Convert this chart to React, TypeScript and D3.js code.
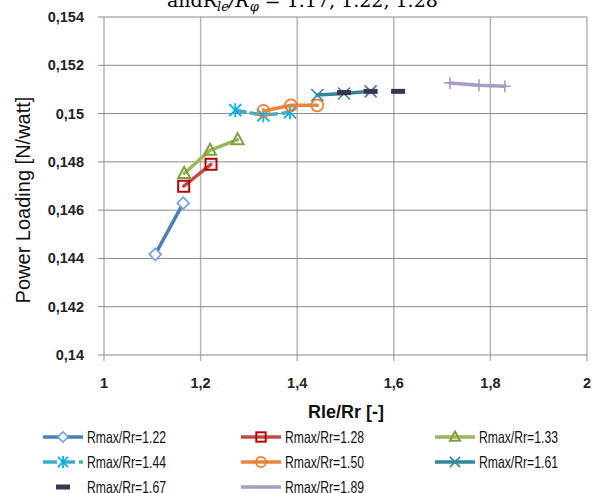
import React from "react";
import * as d3 from "d3";

const xTicks = [1, 1.2, 1.4, 1.6, 1.8, 2];
const yTicks = [0.14, 0.142, 0.144, 0.146, 0.148, 0.15, 0.152, 0.154];

const s122x = [1.106, 1.164];
const s122y = [0.14417, 0.14629];
const s128x = [1.165, 1.2215];
const s128y = [0.14699, 0.1479];
const s133x = [1.166, 1.2195, 1.2767];
const s133y = [0.14752, 0.14848, 0.14892];
const s144x = [1.2718, 1.3298, 1.385];
const s144y = [0.15014, 0.14993, 0.15005];
const s150x = [1.33, 1.387, 1.4416];
const s150y = [0.15011, 0.15034, 0.15034];
const s161x = [1.4416, 1.4969, 1.552];
const s161y = [0.15077, 0.15083, 0.15092];
const s167x = [1.4969, 1.552, 1.609];
const s167y = [0.15087, 0.15092, 0.15092];
const s189x = [1.7164, 1.7764, 1.83];
const s189y = [0.15127, 0.15117, 0.15113];

const labels = [
  "Rmax/Rr=1.22", "Rmax/Rr=1.28", "Rmax/Rr=1.33",
  "Rmax/Rr=1.44", "Rmax/Rr=1.50", "Rmax/Rr=1.61",
  "Rmax/Rr=1.67", "Rmax/Rr=1.89",
];

type S = {
  xs: number[]; ys: number[]; line: string | null; mk: string; marker: string; dash?: string; legendMarker?: boolean;
};

const series: S[] = [
  { xs: s122x, ys: s122y, line: "#4a7ebb", mk: "#6fa0e0", marker: "diamond" },
  { xs: s128x, ys: s128y, line: "#be4b48", mk: "#c00000", marker: "square" },
  { xs: s133x, ys: s133y, line: "#98b954", mk: "#7f9f3f", marker: "triangle" },
  { xs: s144x, ys: s144y, line: "#46aac5", mk: "#00b0f0", marker: "star", dash: "10,6" },
  { xs: s150x, ys: s150y, line: "#e9853b", mk: "#f07c2a", marker: "circle" },
  { xs: s161x, ys: s161y, line: "#31859c", mk: "#31859c", marker: "x" },
  { xs: s167x, ys: s167y, line: null, mk: "#403151", marker: "dash" },
  { xs: s189x, ys: s189y, line: "#a99bc2", mk: "#a99bc2", marker: "plus", legendMarker: false },
];

function Marker({ type, cx, cy, c, k = 1 }: { type: string; cx: number; cy: number; c: string; k?: number }) {
  const r = 6 * k;
  const sw = 1.6;
  switch (type) {
    case "diamond":
      return <path d={`M${cx},${cy - r} L${cx + r},${cy} L${cx},${cy + r} L${cx - r},${cy} Z`} fill="white" stroke={c} strokeWidth={sw} />;
    case "square":
      return <rect x={cx - 5.5 * k} y={cy - 5.5 * k} width={11 * k} height={11 * k} fill="none" stroke={c} strokeWidth={sw + 0.4} />;
    case "triangle":
      return <path d={`M${cx},${cy - 6.5 * k} L${cx + 6 * k},${cy + 4.5 * k} L${cx - 6 * k},${cy + 4.5 * k} Z`} fill="none" stroke={c} strokeWidth={sw + 0.4} />;
    case "circle":
      return <circle cx={cx} cy={cy} r={r} fill="none" stroke={c} strokeWidth={sw} />;
    case "star":
      return (
        <g stroke={c} strokeWidth={1.8}>
          <line x1={cx - r} y1={cy - r} x2={cx + r} y2={cy + r} />
          <line x1={cx - r} y1={cy + r} x2={cx + r} y2={cy - r} />
          <line x1={cx} y1={cy - r - 1} x2={cx} y2={cy + r + 1} />
        </g>
      );
    case "x":
      return (
        <g stroke={c} strokeWidth={1.6}>
          <line x1={cx - r} y1={cy - r} x2={cx + r} y2={cy + r} />
          <line x1={cx - r} y1={cy + r} x2={cx + r} y2={cy - r} />
        </g>
      );
    case "dash":
      return <rect x={cx - 7} y={cy - 2.5} width={14} height={5} fill={c} />;
    case "plus":
      return (
        <g stroke={c} strokeWidth={1.6}>
          <line x1={cx} y1={cy - r} x2={cx} y2={cy + r} />
          <line x1={cx - r} y1={cy} x2={cx + r} y2={cy} />
        </g>
      );
  }
  return null;
}

export default function App() {
  const W = 596, H = 493;
  const x = d3.scaleLinear().domain([1, 2]).range([104, 587]);
  const y = d3.scaleLinear().domain([0.14, 0.154]).range([355, 17]);
  const fmtY = (v: number) => d3.format(".3~f")(v).replace(".", ",");
  const fmtX = (v: number) => d3.format(".1~f")(v).replace(".", ",");
  const lineGen = d3.line<[number, number]>().x((d) => x(d[0])).y((d) => y(d[1]));

  const legendCols = [43, 241, 435];
  const legendRows = [437, 462, 487];

  return (
    <svg width={W} height={H} style={{ position: "absolute", left: 0, top: 0, background: "white" }}>
      <rect width={W} height={H} fill="white" />
      {/* title, cut off at the top edge as in the reference */}
      <text x={167} y={7} fontFamily="DejaVu Serif, serif" fontSize={19} fill="#000">
        andR<tspan fontSize={13} dy={4} fontStyle="italic">le</tspan>
        <tspan dy={-4} fontStyle="italic">/R</tspan>
        <tspan fontSize={13} dy={4} fontStyle="italic">φ</tspan>
        <tspan dy={-4}>{" = 1.17, 1.22, 1.28"}</tspan>
      </text>
      {/* vertical grid */}
      {xTicks.map((t) => (
        <line key={"vx" + t} x1={x(t)} x2={x(t)} y1={y(0.154)} y2={y(0.14) + 6} stroke="#b5b5b5" strokeWidth={1.5} />
      ))}
      {/* horizontal grid */}
      {yTicks.map((t) => (
        <line key={"hy" + t} x1={x(1) - 6} x2={x(2)} y1={y(t)} y2={y(t)} stroke="#8a8a8a" strokeWidth={1} />
      ))}
      {/* y tick labels */}
      {yTicks.map((t) => (
        <text key={"yl" + t} x={84} y={y(t) + 5} textAnchor="end" fontFamily="Liberation Sans, Arial, sans-serif" fontWeight="bold" fontSize={14.5} fill="#222">
          {fmtY(t)}
        </text>
      ))}
      {/* x tick labels */}
      {xTicks.map((t) => (
        <text key={"xl" + t} x={x(t)} y={388} textAnchor="middle" fontFamily="Liberation Sans, Arial, sans-serif" fontWeight="bold" fontSize={14.5} fill="#222">
          {fmtX(t)}
        </text>
      ))}
      <text x={346} y={418} textAnchor="middle" fontFamily="Liberation Sans, Arial, sans-serif" fontWeight="bold" fontSize={18} fill="#111">
        Rle/Rr [-]
      </text>
      <text transform="translate(30,200) rotate(-90)" textAnchor="middle" fontFamily="Liberation Sans, Arial, sans-serif" fontSize={20} fill="#111">
        Power Loading [N/watt]
      </text>
      {/* series */}
      {series.map((s, i) => {
        const pts = s.xs.map((v, j) => [v, s.ys[j]] as [number, number]);
        return (
          <g key={"s" + i}>
            {s.line && (
              <path d={lineGen(pts) || ""} fill="none" stroke={s.line} strokeWidth={3.5} strokeDasharray={s.dash} strokeLinecap="round" />
            )}
            {pts.map((p, j) => (
              <Marker key={j} type={s.marker} cx={x(p[0])} cy={y(p[1])} c={s.mk} />
            ))}
          </g>
        );
      })}
      {/* legend */}
      {series.map((s, i) => {
        const lx = legendCols[i % 3];
        const ly = legendRows[Math.floor(i / 3)];
        return (
          <g key={"lg" + i}>
            {s.line && (
              <line x1={lx} x2={lx + 40} y1={ly} y2={ly} stroke={s.line} strokeWidth={3.5} strokeDasharray={s.dash ? "14,4" : undefined} />
            )}
            {s.legendMarker !== false && (
              <Marker type={s.marker} cx={lx + 20} cy={ly} c={s.mk} k={0.85} />
            )}
            <text x={lx + 44} y={ly + 6} fontFamily="Liberation Sans, Arial, sans-serif" fontSize={16.5} fill="#111"
              textLength={79} lengthAdjust="spacingAndGlyphs">
              {labels[i]}
            </text>
          </g>
        );
      })}
    </svg>
  );
}
